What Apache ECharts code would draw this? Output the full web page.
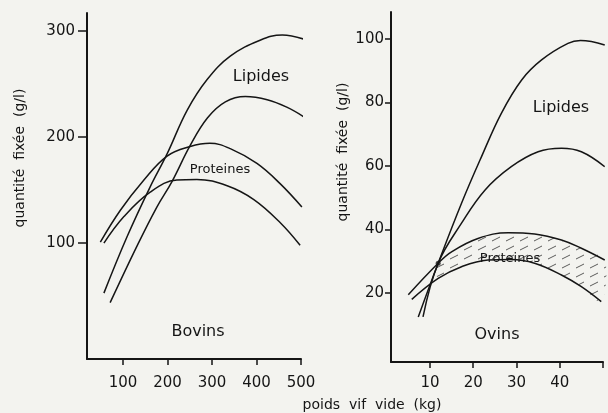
<!DOCTYPE html>
<html>
<head>
<meta charset="utf-8">
<script src="https://cdn.jsdelivr.net/npm/echarts@6/dist/echarts.min.js"></script>
<style>
  html, body { margin: 0; padding: 0; background: #f3f3ef; }
  #chart { width: 608px; height: 413px; }
</style>
</head>
<body>
<div id="chart"></div>
<script>
// Bovins: fixed quantity (g/l) against empty live weight (kg)
const bovinsLipidesHaut = [[57,53],[109,106],[161,153],[199,184],[244,225],[289,254],[341,276],[408,291],[458,296],[513,291]];
const bovinsLipidesBas  = [[71,44],[131,97],[176,134],[210,158],[251,192],[290,218],[330,233],[375,238],[424,235],[468,228],[506,219]];
const bovinsProtHaut    = [[49,101],[94,131],[146,159],[199,182],[251,191],[295,194],[341,189],[401,175],[453,156],[502,134]];
const bovinsProtBas     = [[57,100],[102,125],[161,148],[221,159.5],[266,160],[334,154],[394,141],[454,119],[498,98]];

// Ovins
const ovinsLipidesHaut = [[7.3,12.5],[11.9,29.4],[17.3,48.3],[21.9,62.9],[26.5,76.6],[31.2,87.1],[35.8,93.4],[41.9,98.6],[44.8,99.5],[50.4,98.1]];
const ovinsLipidesBas  = [[8.4,12.5],[11.9,29.4],[17.3,42],[22.7,52.4],[28.8,59.8],[35,64.5],[40.4,65.6],[45,64.5],[50.4,59.8]];
const ovinsProtHaut    = [[5.0,19.5],[11.9,29.4],[15,33],[21.1,37.2],[28.1,39],[34.2,38.6],[40.4,36.7],[45,34.1],[50.4,30.4]];
const ovinsProtBas     = [[5.8,18],[11.9,24.6],[17.3,28.3],[23.4,30.4],[28.8,30.6],[34.2,29.4],[40.4,25.7],[45,22],[49.6,17.3]];
const ovinsCroisement  = [[11.9,29.4]];

// Tick labels
const bovinsXTicks = [100, 200, 300, 400, 500];
const bovinsYTicks = [100, 200, 300];
const ovinsXTicks  = [10, 20, 30, 40, 50];
const ovinsXLabels = [10, 20, 30, 40];
const ovinsYTicks  = [20, 40, 60, 80, 100];

const INK = '#151515';
const FONT = 'DejaVu Sans';

// Short slanted dashes used to hatch the protein band
function hatchPattern() {
  const c = document.createElement('canvas');
  c.width = 14; c.height = 9;
  const g = c.getContext('2d');
  g.strokeStyle = 'rgba(40,40,40,0.75)';
  g.lineWidth = 1;
  g.beginPath();
  g.moveTo(2, 7); g.lineTo(10, 3);
  g.stroke();
  return c;
}

function curve(data, xi, yi) {
  return {
    type: 'line', xAxisIndex: xi, yAxisIndex: yi, data: data,
    smooth: 0.4, showSymbol: false, clip: false, silent: true,
    lineStyle: { color: INK, width: 1.5 }
  };
}

function xAxisCfg(grid, min, max, ticks, labels, margin) {
  return {
    type: 'value', gridIndex: grid, min: min, max: max,
    splitLine: { show: false },
    axisLine: { show: true, onZero: false, lineStyle: { color: INK, width: 2 } },
    axisTick: { show: true, customValues: ticks, length: 6, lineStyle: { color: INK, width: 1.5 } },
    axisLabel: { customValues: labels, color: INK, fontSize: 15, fontFamily: FONT, margin: margin }
  };
}

function yAxisCfg(grid, min, max, ticks, tickLen, margin) {
  return {
    type: 'value', gridIndex: grid, min: min, max: max,
    splitLine: { show: false },
    axisLine: { show: true, onZero: false, lineStyle: { color: INK, width: 2 } },
    axisTick: { show: true, customValues: ticks, length: tickLen, lineStyle: { color: INK, width: 1.5 } },
    axisLabel: { customValues: ticks, color: INK, fontSize: 15, fontFamily: FONT, margin: margin, padding: [0, 0, 5, 0] }
  };
}

function label(text, x, y, size, rot) {
  return {
    type: 'text', x: x, y: y, rotation: rot || 0, silent: true,
    style: { text: text, fill: INK, font: size + 'px "' + FONT + '"', align: 'center', verticalAlign: 'middle' }
  };
}

const chart = echarts.init(document.getElementById('chart'), null, { renderer: 'canvas' });
const pattern = hatchPattern();

chart.setOption({
  backgroundColor: '#f3f3ef',
  animation: false,
  grid: [
    { left: 87, top: 13, width: 214, height: 346 },
    { left: 391, top: 12, width: 212, height: 350 }
  ],
  xAxis: [
    xAxisCfg(0, 19, 500, bovinsXTicks, bovinsXTicks, 17),
    xAxisCfg(1, 1, 50, ovinsXTicks, ovinsXLabels, 14)
  ],
  yAxis: [
    yAxisCfg(0, -9, 316.6, bovinsYTicks, 9, 12),
    yAxisCfg(1, -1.7, 108.5, ovinsYTicks, 6, 7)
  ],
  series: [
    curve(bovinsLipidesHaut, 0, 0),
    curve(bovinsLipidesBas, 0, 0),
    curve(bovinsProtHaut, 0, 0),
    curve(bovinsProtBas, 0, 0),
    {
      // hatched band between the two protein curves of the Ovins panel
      type: 'custom', xAxisIndex: 1, yAxisIndex: 1, silent: true, clip: false,
      data: [0],
      renderItem: function (params, api) {
        const top = ovinsProtHaut.filter(p => p[0] >= 11.9).map(p => api.coord(p));
        const bottom = ovinsProtBas.filter(p => p[0] >= 11.9).map(p => api.coord(p)).reverse();
        return {
          type: 'polygon',
          shape: { points: top.concat(bottom), smooth: 0.3 },
          style: { fill: { image: pattern, repeat: 'repeat' }, stroke: null }
        };
      }
    },
    curve(ovinsLipidesHaut, 1, 1),
    curve(ovinsLipidesBas, 1, 1),
    curve(ovinsProtHaut, 1, 1),
    curve(ovinsProtBas, 1, 1),
    {
      type: 'scatter', xAxisIndex: 1, yAxisIndex: 1, data: ovinsCroisement,
      symbolSize: 5, silent: true, itemStyle: { color: INK }
    }
  ],
  graphic: [
    label('Lipides', 261, 77, 16),
    label('Proteines', 220, 170, 13),
    label('Bovins', 198, 332, 16),
    label('Lipides', 561, 108, 16),
    label('Proteines', 510, 259, 13),
    label('Ovins', 497, 335, 16),
    label('quantité  fixée  (g/l)', 20, 158, 14, Math.PI / 2),
    label('quantité  fixée  (g/l)', 343, 152, 14, Math.PI / 2),
    label('poids  vif  vide  (kg)', 372, 405, 14)
  ]
});
</script>
</body>
</html>
